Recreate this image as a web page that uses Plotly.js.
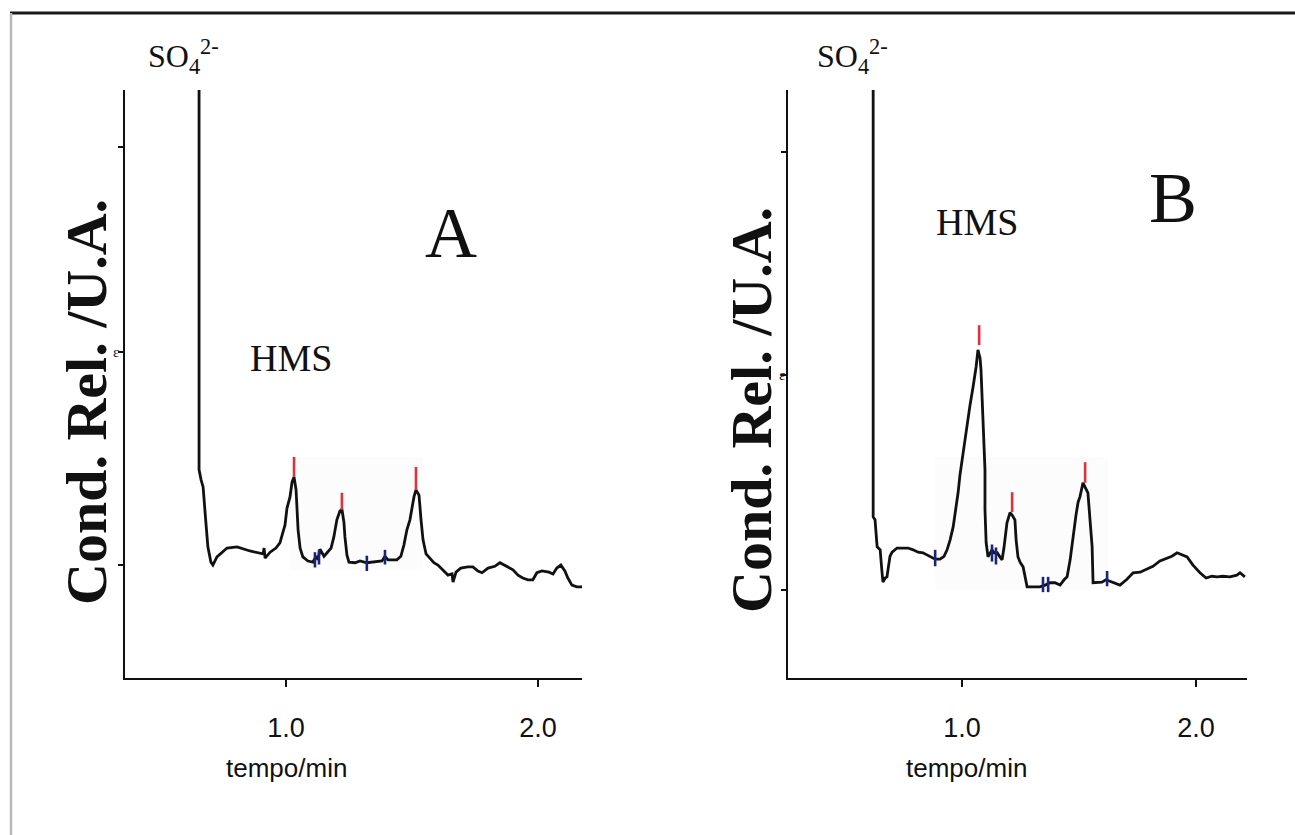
<!DOCTYPE html>
<html>
<head>
<meta charset="utf-8">
<script src="https://cdn.plot.ly/plotly-3.0.1.min.js"></script>
<style>html,body{margin:0;padding:0;background:#fff;}#chart{width:1295px;height:835px;}</style>
</head>
<body>
<div id="chart"></div>
<script>
// ---- Panel A chromatogram (time / min, relative conductance) ----
const timeA = [0.655,0.655,0.663,0.671,0.679,0.687,0.690,0.702,0.710,0.726,0.746,0.766,0.806,0.857,0.909,0.913,0.917,0.937,0.960,0.976,0.988,0.996,1.004,1.016,1.024,1.032,1.040,1.044,1.048,1.056,1.067,1.087,1.107,1.119,1.127,1.135,1.151,1.163,1.179,1.190,1.202,1.214,1.222,1.230,1.234,1.242,1.250,1.274,1.294,1.321,1.353,1.381,1.393,1.405,1.440,1.456,1.468,1.480,1.492,1.500,1.508,1.516,1.528,1.536,1.544,1.556,1.571,1.587,1.603,1.615,1.631,1.643,1.659,1.663,1.675,1.694,1.722,1.742,1.762,1.778,1.802,1.829,1.849,1.873,1.901,1.921,1.940,1.960,1.980,1.996,2.016,2.044,2.060,2.075,2.091,2.107,2.119,2.135,2.155,2.179,2.183];
const condA = [100,35.4,33.7,32.5,28.1,24.3,22.3,19.7,19.2,20.6,21.4,22.1,22.3,21.6,21.1,22.1,20.4,21.4,22.1,23.0,24.8,26.0,28.9,30.8,33.3,34.2,32.0,29.1,25.2,22.1,20.6,19.9,19.7,20.7,20.1,21.9,20.7,21.3,22.1,24.0,26.9,28.4,28.7,26.5,24.0,20.9,19.7,19.6,19.9,19.6,19.7,19.9,20.7,20.1,20.1,20.7,22.6,25.2,26.9,28.9,30.8,32.0,31.1,26.9,23.5,21.1,20.4,19.6,19.2,18.7,18.0,17.5,17.7,16.3,18.0,18.7,18.9,18.9,18.2,17.9,18.7,19.0,19.6,19.0,18.4,17.5,17.0,16.7,16.7,17.9,18.2,18.0,17.7,18.7,19.2,18.2,17.0,15.8,15.5,15.5,16.7];
// peak apex markers (red) and integration marks (blue) for A
const peakTimeA = [1.032,1.222,1.516];
const peakBaseA = [34.2,28.6,32.0];
const peakTopA  = [37.6,31.5,35.9];
const markTimeA = [1.115,1.131,1.321,1.393];
const markLowA  = [18.8,19.3,18.2,19.3];
const markHighA = [21.4,21.8,20.8,21.8];
const zoneA = [1.016,1.544,18.4,37.6];

// ---- Panel B chromatogram ----
const timeB = [0.620,0.620,0.628,0.632,0.637,0.650,0.654,0.658,0.662,0.671,0.679,0.688,0.692,0.701,0.722,0.748,0.769,0.791,0.812,0.833,0.859,0.885,0.906,0.923,0.936,0.949,0.962,0.974,0.983,0.991,1.004,1.013,1.026,1.034,1.047,1.056,1.060,1.068,1.077,1.081,1.085,1.090,1.094,1.098,1.098,1.103,1.111,1.120,1.128,1.137,1.150,1.162,1.171,1.179,1.192,1.205,1.214,1.226,1.231,1.239,1.248,1.261,1.269,1.278,1.303,1.333,1.355,1.376,1.397,1.419,1.436,1.449,1.462,1.474,1.487,1.496,1.504,1.517,1.530,1.538,1.547,1.556,1.560,1.577,1.598,1.615,1.641,1.675,1.705,1.731,1.761,1.791,1.816,1.846,1.876,1.897,1.919,1.944,1.962,1.987,2.017,2.043,2.068,2.090,2.115,2.145,2.175,2.188,2.209];
const condB = [100,27.4,26.9,24.3,22.3,21.8,19.2,17.9,16.3,17.0,17.2,19.6,20.7,21.4,22.1,22.1,22.1,21.8,21.4,21.3,20.7,20.2,20.2,20.7,21.8,23.5,25.7,28.6,31.5,34.5,38.3,40.5,43.9,46.4,49.5,51.5,52.9,55.8,54.4,52.4,48.1,43.9,38.8,35.4,28.6,23.0,20.6,21.3,21.8,21.3,21.3,20.6,20.1,22.1,26.4,28.1,27.7,26.9,23.5,20.6,19.7,18.9,17.2,15.5,15.5,15.5,15.8,16.2,16.2,15.8,16.7,17.2,20.1,24.0,27.7,29.9,30.8,33.2,32.3,31.5,26.9,22.3,16.2,16.3,16.3,16.7,16.3,15.8,16.8,17.9,18.0,18.5,19.0,19.9,20.4,20.7,21.3,20.9,20.6,19.2,17.9,17.0,17.3,17.2,17.3,17.2,17.5,17.9,17.2];
const peakTimeB = [1.073,1.214,1.526];
const peakBaseB = [56.6,28.2,33.2];
const peakTopB  = [60.0,31.6,36.7];
const markTimeB = [0.885,1.128,1.145,1.346,1.368,1.620];
const markLowB  = [19.0,19.8,19.3,14.6,14.6,15.6];
const markHighB = [21.8,22.7,22.2,17.2,17.2,18.2];
const zoneB = [0.885,1.624,15.0,37.6];

// axis ticks
const xTickVals = [1.0, 2.0];
const xTickText = ['1.0', '2.0'];
const yTickValsA = [90.3, 55.4, 19.2];
const yTickValsB = [89.5, 51.5, 15.0];
const yMidLabel = 'ε';

function segs(xs, lo, hi) {
  const x = [], y = [];
  xs.forEach((v, i) => { x.push(v, v, null); y.push(lo[i], hi[i], null); });
  return {x, y};
}

const traces = [];
function addPanel(t, c, pt, pb, ptop, mt, ml, mh, xa, ya) {
  traces.push({x: t, y: c, xaxis: xa, yaxis: ya, mode: 'lines', type: 'scatter',
    line: {color: '#111', width: 2.8}, hoverinfo: 'skip', showlegend: false});
  const r = segs(pt, pb, ptop);
  traces.push({x: r.x, y: r.y, xaxis: xa, yaxis: ya, mode: 'lines', type: 'scatter',
    line: {color: '#d8343f', width: 2.6}, hoverinfo: 'skip', showlegend: false});
  const b = segs(mt, ml, mh);
  traces.push({x: b.x, y: b.y, xaxis: xa, yaxis: ya, mode: 'lines', type: 'scatter',
    line: {color: '#1c2478', width: 2.6}, hoverinfo: 'skip', showlegend: false});
}
addPanel(timeA, condA, peakTimeA, peakBaseA, peakTopA, markTimeA, markLowA, markHighA, 'x', 'y');
addPanel(timeB, condB, peakTimeB, peakBaseB, peakTopB, markTimeB, markLowB, markHighB, 'x2', 'y2');

const xCommon = {
  showgrid: false, zeroline: false, showline: true, linecolor: '#111', linewidth: 2,
  ticks: 'outside', ticklen: 7, tickwidth: 2, tickcolor: '#111',
  tickvals: xTickVals, ticktext: xTickText, ticklabelstandoff: 18,
  tickfont: {family: 'Liberation Sans, Arial, sans-serif', size: 27, color: '#111'}
};
const yCommon = {
  showgrid: false, zeroline: false, showline: true, linecolor: '#111', linewidth: 2,
  ticks: 'outside', ticklen: 5, tickwidth: 2, tickcolor: '#111', range: [0, 100],
  showticklabels: false
};

const W = 1295, H = 835;
const px = v => v / W, py = v => (H - v) / H;
const serif = 'Liberation Serif, Times New Roman, serif';
const sans = 'Liberation Sans, Arial, sans-serif';
const ann = (x, y, text, size, bold, extra) => Object.assign({
  xref: 'paper', yref: 'paper', x: px(x), y: py(y), text: bold ? '<b>' + text + '</b>' : text,
  showarrow: false, xanchor: 'center', yanchor: 'middle',
  font: {family: serif, size: size, color: '#111'}
}, extra || {});

const layout = {
  width: W, height: H, margin: {l: 0, r: 0, t: 0, b: 0},
  paper_bgcolor: '#fff', plot_bgcolor: 'rgba(0,0,0,0)', showlegend: false,
  xaxis: Object.assign({}, xCommon, {domain: [px(125), px(582)], range: [0.361, 2.175], anchor: 'y'}),
  yaxis: Object.assign({}, yCommon, {domain: [py(678), py(90)], anchor: 'x', tickvals: yTickValsA}),
  xaxis2: Object.assign({}, xCommon, {domain: [px(788), px(1247)], range: [0.256, 2.218], anchor: 'y2'}),
  yaxis2: Object.assign({}, yCommon, {domain: [py(678), py(90)], anchor: 'x2', tickvals: yTickValsB}),
  shapes: [
    {type: 'rect', xref: 'x', yref: 'y', x0: zoneA[0], x1: zoneA[1], y0: zoneA[2], y1: zoneA[3],
      line: {width: 0}, fillcolor: 'rgba(0,0,0,0.012)', layer: 'below'},
    {type: 'rect', xref: 'x2', yref: 'y2', x0: zoneB[0], x1: zoneB[1], y0: zoneB[2], y1: zoneB[3],
      line: {width: 0}, fillcolor: 'rgba(0,0,0,0.012)', layer: 'below'},
    {type: 'line', xref: 'paper', yref: 'paper', x0: px(10), x1: 1.01, y0: py(13), y1: py(13),
      line: {color: '#1a1a1a', width: 3}},
    {type: 'line', xref: 'paper', yref: 'paper', x0: px(11), x1: px(11), y0: py(13), y1: -0.01,
      line: {color: '#b8b8b8', width: 2.5}}
  ],
  annotations: [
    ann(183, 56, 'SO<sub>4</sub><sup>2-</sup>', 32, false),
    ann(852, 56, 'SO<sub>4</sub><sup>2-</sup>', 32, false),
    ann(291, 358, 'HMS', 38, false),
    ann(977, 222, 'HMS', 38, false),
    ann(451, 233, 'A', 72, false),
    ann(1173, 198, 'B', 72, false),
    ann(87, 402, 'Cond. Rel. /U.A.', 58, true, {textangle: -90}),
    ann(751, 410, 'Cond. Rel. /U.A.', 58, true, {textangle: -90}),
    ann(116, 352, yMidLabel, 15, false),
    ann(782, 375, yMidLabel, 15, false),
    ann(286, 768, 'tempo/min', 26, false, {font: {family: sans, size: 26, color: '#111'}}),
    ann(966, 768, 'tempo/min', 26, false, {font: {family: sans, size: 26, color: '#111'}})
  ]
};

Plotly.newPlot('chart', traces, layout, {displayModeBar: false, staticPlot: true});
</script>
</body>
</html>
